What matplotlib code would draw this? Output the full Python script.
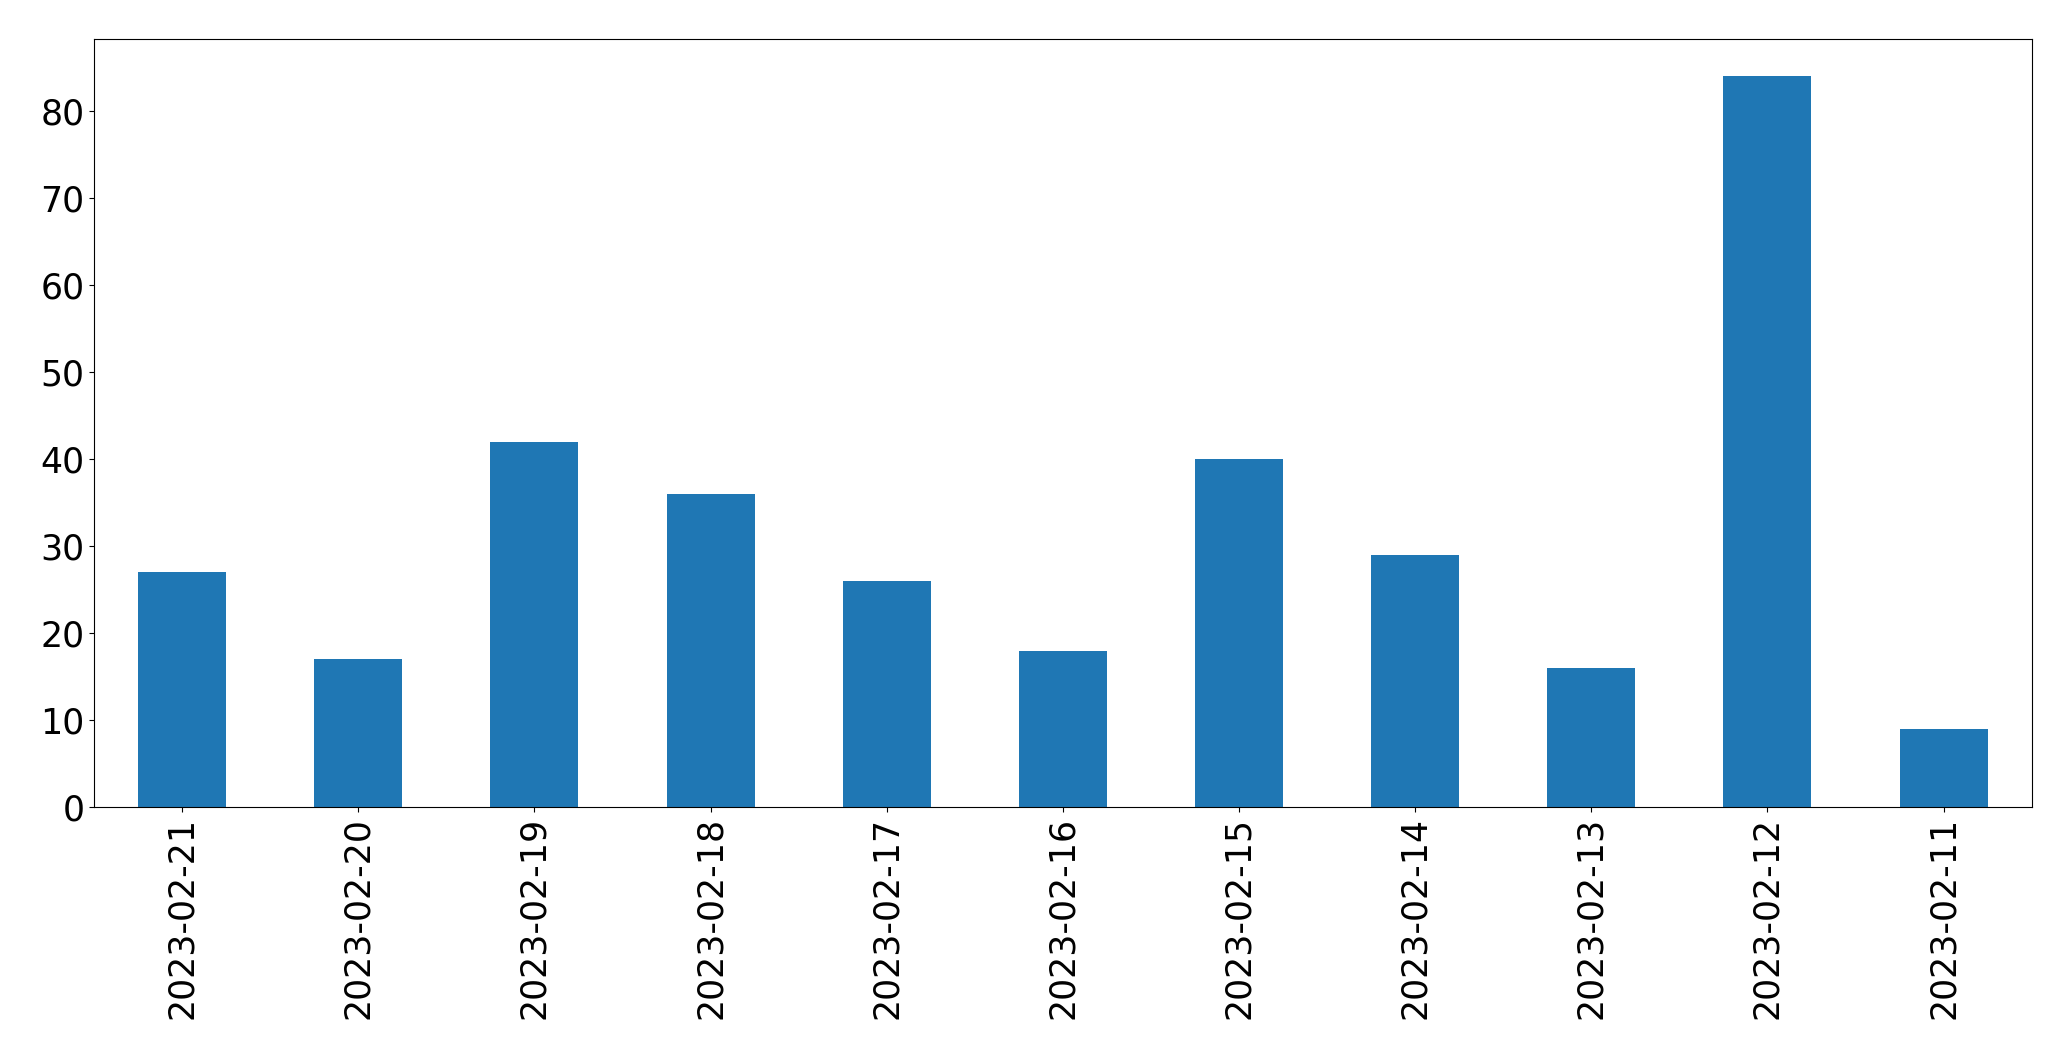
import matplotlib
matplotlib.use("Agg")
import matplotlib.pyplot as plt

# daily counts, newest first (as in the original)
dates = ["2023-02-21", "2023-02-20", "2023-02-19", "2023-02-18", "2023-02-17",
         "2023-02-16", "2023-02-15", "2023-02-14", "2023-02-13", "2023-02-12",
         "2023-02-11"]
counts = [27, 17, 42, 36, 26, 18, 40, 29, 16, 84, 9]

fig, ax = plt.subplots(figsize=(20.71, 10.61), dpi=100)
fig.subplots_adjust(left=0.0454, right=0.981, top=0.963, bottom=0.239)

x = range(len(dates))
ax.bar(x, counts, width=0.5, color="#1f77b4")
ax.set_xticks(list(x))
ax.set_xticklabels(dates, rotation=90)
ax.set_xlim(-0.5, len(dates) - 0.5)
ax.tick_params(labelsize=25)

fig.savefig("out.png", dpi=100)
